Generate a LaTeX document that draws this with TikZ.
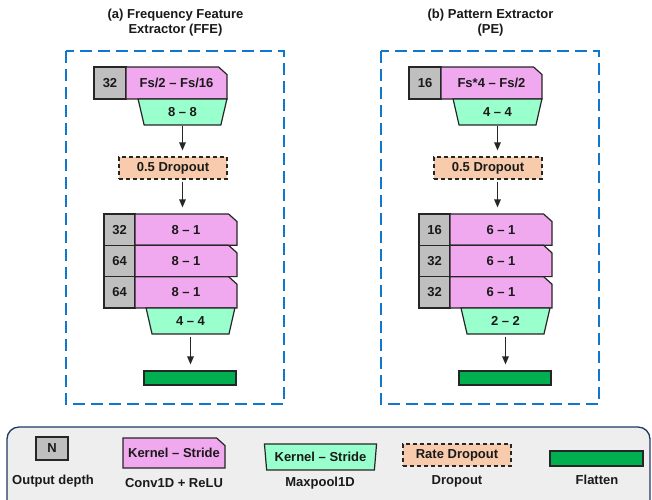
\documentclass[tikz,border=0pt]{standalone}
\usepackage{fontspec}
\setmainfont{Liberation Sans}
\usetikzlibrary{shapes.misc,shapes.geometric,arrows.meta}
\definecolor{grayc}{HTML}{BFBFBF}
\definecolor{pinkc}{HTML}{F0A8EE}
\definecolor{mintc}{HTML}{99FFCC}
\definecolor{peachc}{HTML}{F8CBAD}
\definecolor{greenc}{HTML}{00B050}
\definecolor{bluec}{HTML}{1177CC}
\definecolor{navyc}{HTML}{1F3864}
\definecolor{legc}{HTML}{EEEEEE}
\definecolor{linec}{HTML}{262626}
\definecolor{txtc}{HTML}{1A1A1A}
\newcommand\lblfont{\fontsize{13}{15}\selectfont\bfseries}
\tikzset{
  base/.style={draw=linec, line width=1.2pt, inner sep=0pt, text=txtc, font=\lblfont},
  depthbox/.style={base, fill=grayc, rectangle, minimum width=#1},
  convbox/.style={base, fill=pinkc, chamfered rectangle, chamfered rectangle corners=north east,
     chamfered rectangle xsep=4.5pt, chamfered rectangle angle=48, minimum width=#1},
  poolbox/.style={base, fill=mintc, trapezium, trapezium left angle=76, trapezium right angle=76,
     shape border rotate=180, trapezium stretches=true, minimum width=#1},
  dropbox/.style={base, fill=peachc, rectangle, dash pattern=on 4pt off 3pt, minimum width=108pt, minimum height=22pt},
  flatbox/.style={base, fill=greenc, rectangle, minimum width=92pt, minimum height=14pt},
  panel/.style={draw=bluec, line width=1.8pt, dash pattern=on 12pt off 6pt},
  flow/.style={draw=linec, line width=1.2pt, -{Triangle[length=8pt,width=6.5pt]}, shorten <=2pt, shorten >=6pt},
  caption/.style={font=\lblfont, text=txtc, inner sep=0pt},
}
\begin{document}
\begin{tikzpicture}[x=1pt,y=-1pt]
\useasboundingbox (0,0) rectangle (652,499);
\fill[white] (0,0) rectangle (652,499);

% ---------- panel (a)
\node[caption, align=center] (ta) at (175.5,22.5) {(a) Frequency Feature\\Extractor (FFE)};
\draw[panel] (66,51) rectangle (284,404);
\node[depthbox=32pt, minimum height=32pt] (a-d1) at (110,83) {32};
\node[convbox=101pt, minimum height=32pt] (a-c1) at (176.5,83) {Fs/2 -- Fs/16};
\node[poolbox=89pt, minimum height=26pt] (a-p1) at (182.5,112) {8 -- 8};
\node[dropbox] (a-dr) at (173,168) {0.5 Dropout};
\node[depthbox=31pt, minimum height=31.3pt] (a-d2) at (119.5,229.65) {32};
\node[convbox=102pt, minimum height=31.3pt] (a-c2) at (186,229.65) {8 -- 1};
\node[depthbox=31pt, minimum height=31.3pt] (a-d3) at (119.5,260.95) {64};
\node[convbox=102pt, minimum height=31.3pt] (a-c3) at (186,260.95) {8 -- 1};
\node[depthbox=31pt, minimum height=31.3pt] (a-d4) at (119.5,292.3) {64};
\node[convbox=102pt, minimum height=31.3pt] (a-c4) at (186,292.3) {8 -- 1};
\node[poolbox=89pt, minimum height=26pt] (a-p2) at (190.5,321) {4 -- 4};
\node[flatbox] (a-fl) at (190,378) {};
\draw[flow, shorten <=0pt] (a-p1.south) -- (a-p1.south |- a-dr.north);
\draw[flow] (a-dr.south -| a-p1) -- (a-c2.north -| a-p1);
\draw[flow] (a-p2.south) -- (a-p2.south |- a-fl.north);

% ---------- panel (b)
\node[caption, align=center] (tb) at (490.5,22.5) {(b) Pattern Extractor\\(PE)};
\draw[panel] (381,51) rectangle (599,404);
\node[depthbox=32pt, minimum height=32pt] (b-d1) at (425,83) {16};
\node[convbox=101pt, minimum height=32pt] (b-c1) at (491.5,83) {Fs*4 -- Fs/2};
\node[poolbox=89pt, minimum height=26pt] (b-p1) at (497.5,112) {4 -- 4};
\node[dropbox] (b-dr) at (488,168) {0.5 Dropout};
\node[depthbox=31pt, minimum height=31.3pt] (b-d2) at (434.5,229.65) {16};
\node[convbox=102pt, minimum height=31.3pt] (b-c2) at (501,229.65) {6 -- 1};
\node[depthbox=31pt, minimum height=31.3pt] (b-d3) at (434.5,260.95) {32};
\node[convbox=102pt, minimum height=31.3pt] (b-c3) at (501,260.95) {6 -- 1};
\node[depthbox=31pt, minimum height=31.3pt] (b-d4) at (434.5,292.3) {32};
\node[convbox=102pt, minimum height=31.3pt] (b-c4) at (501,292.3) {6 -- 1};
\node[poolbox=89pt, minimum height=26pt] (b-p2) at (505.5,321) {2 -- 2};
\node[flatbox] (b-fl) at (505,378) {};
\draw[flow, shorten <=0pt] (b-p1.south) -- (b-p1.south |- b-dr.north);
\draw[flow] (b-dr.south -| b-p1) -- (b-c2.north -| b-p1);
\draw[flow] (b-p2.south) -- (b-p2.south |- b-fl.north);

% ---------- legend
\draw[rounded corners=12pt, fill=legc, draw=navyc, line width=1.3pt] (7,427) rectangle (650,512);
\node[depthbox=32pt, minimum height=23pt] (l-d) at (52,448.5) {N};
\node[caption] (l-dt) at (53,481) {Output depth};
\node[convbox=102pt, minimum height=30pt] (l-c) at (174,453) {Kernel -- Stride};
\node[caption] (l-ct) at (174,483.5) {Conv1D + ReLU};
\node[poolbox=113pt, minimum height=26pt, trapezium left angle=79, trapezium right angle=79] (l-p) at (320.5,457) {Kernel -- Stride};
\node[caption] (l-pt) at (320,483) {Maxpool1D};
\node[dropbox] (l-dr) at (457,455) {Rate Dropout};
\node[caption] (l-drt) at (457,481.5) {Dropout};
\node[flatbox, minimum width=93pt, minimum height=15pt] (l-fl) at (596.5,458.5) {};
\node[caption] (l-flt) at (597,480) {Flatten};
\end{tikzpicture}
\end{document}
